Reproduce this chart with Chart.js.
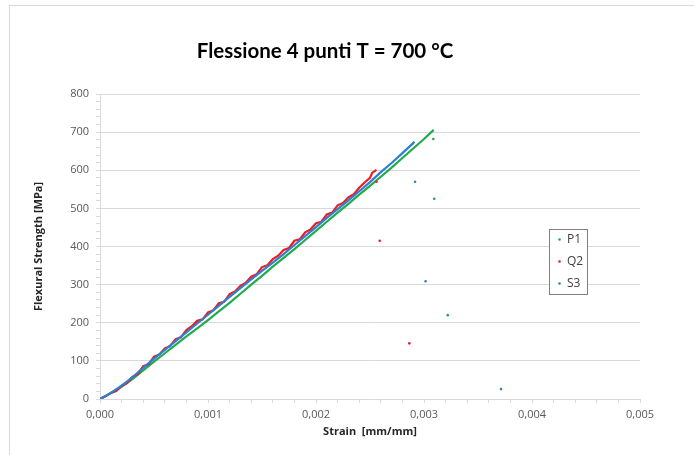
<!DOCTYPE html>
<html>
<head>
<meta charset="utf-8">
<title>Flessione 4 punti T = 700 °C</title>
<script src="https://cdn.jsdelivr.net/npm/chart.js@4.4.1/dist/chart.umd.min.js"></script>
<style>
  html, body { margin: 0; padding: 0; background: #fff; overflow: hidden; }
  #frame {
    position: absolute; left: 9px; top: 5px;
    width: 694px; height: 449px;
    border-left: 1px solid #d9d9d9; border-top: 1px solid #d9d9d9;
  }
</style>
</head>
<body>
<div id="frame"><canvas id="chart" width="694" height="449"></canvas></div>
<script>
// Data (strain in mm/mm, stress in MPa)

const seriesNames = ['P1', 'Q2', 'S3'];
const seriesColors = ['#22aa4c', '#ee1c24', '#2e7fcf'];

// P1 - loading curve
const strainP1 = [0, 0.0001, 0.0002, 0.0003, 0.0004, 0.0005, 0.0006, 0.0007, 0.0008, 0.0009, 0.001,
  0.0011, 0.0012, 0.0013, 0.0014, 0.0015, 0.0016, 0.0017, 0.0018, 0.0019, 0.002,
  0.0021, 0.0022, 0.0023, 0.0024, 0.0025, 0.0026, 0.0027, 0.0028, 0.0029, 0.003, 0.00309];
const stressP1 = [0, 15, 32, 52, 75, 98, 120, 142, 164, 185, 207,
  230, 252, 276, 300, 323, 347, 370, 393, 417, 441,
  465, 489, 512, 536, 559, 583, 607, 632, 657, 682, 706];

// Q2 - loading curve (jagged)
const strainQ2 = [0, 0.00005, 0.0001, 0.00015, 0.0002, 0.00025, 0.0003, 0.00035, 0.0004, 0.00045, 0.0005,
  0.00055, 0.0006, 0.00065, 0.0007, 0.00075, 0.0008, 0.00085, 0.0009, 0.00095, 0.001,
  0.00105, 0.0011, 0.00115, 0.0012, 0.00125, 0.0013, 0.00135, 0.0014, 0.00145, 0.0015,
  0.00155, 0.0016, 0.00165, 0.0017, 0.00175, 0.0018, 0.00185, 0.0019, 0.00195, 0.002,
  0.00205, 0.0021, 0.00215, 0.0022, 0.00225, 0.0023, 0.00235, 0.0024, 0.00245, 0.0025,
  0.00252, 0.00256];
const stressQ2 = [0, 7, 16, 21, 35, 42, 58, 65, 86, 91, 111,
  117, 133, 139, 157, 162, 181, 191, 205, 209, 227,
  233, 251, 255, 275, 282, 297, 305, 321, 327, 346,
  351, 367, 376, 391, 396, 415, 419, 437, 445, 461,
  465, 484, 489, 508, 514, 529, 537, 554, 568, 580,
  593, 601];

// S3 - loading curve
const strainS3 = [0, 0.0001, 0.0002, 0.0003, 0.0004, 0.0005, 0.0006, 0.0007, 0.0008, 0.0009, 0.001,
  0.0011, 0.0012, 0.0013, 0.0014, 0.0015, 0.0016, 0.0017, 0.0018, 0.0019, 0.002,
  0.0021, 0.0022, 0.0023, 0.0024, 0.0025, 0.0026, 0.0027, 0.0028, 0.0029, 0.00291];
const stressS3 = [0, 16, 35, 57, 82, 106, 129, 152, 175, 198, 221,
  244, 268, 291, 314, 336, 358, 380, 404, 427, 451,
  475, 498, 521, 545, 569, 595, 619, 645, 671, 675];

// isolated points recorded after failure
const dropStrainP1 = [0.003086, 0.003095, 0.00322];
const dropStressP1 = [682, 525, 220];
const dropStrainQ2 = [0.00256, 0.00259, 0.002864];
const dropStressQ2 = [570, 415, 146];
const dropStrainS3 = [0.002917, 0.003015, 0.003713];
const dropStressS3 = [570, 309, 26];

const toPoints = (xs, ys) => xs.map((x, i) => ({ x: x, y: ys[i] }));

const curves = [
  toPoints(strainP1, stressP1),
  toPoints(strainQ2, stressQ2),
  toPoints(strainS3, stressS3)
];
const drops = [
  toPoints(dropStrainP1, dropStressP1),
  toPoints(dropStrainQ2, dropStressQ2),
  toPoints(dropStrainS3, dropStressS3)
];
const drawOrder = [3, 2, 1]; // S3 on top

const datasets = [];
seriesNames.forEach((name, i) => {
  datasets.push({
    label: name,
    data: curves[i],
    showLine: true,
    borderColor: seriesColors[i],
    borderWidth: 2.2,
    pointRadius: 0,
    tension: 0,
    order: drawOrder[i]
  });
});
seriesNames.forEach((name, i) => {
  datasets.push({
    label: name + ' drop',
    data: drops[i],
    showLine: false,
    pointRadius: 1.3,
    pointBorderWidth: 0,
    pointBackgroundColor: seriesColors[i],
    order: drawOrder[i]
  });
});

const tickFont = { family: "'Open Sans', sans-serif", size: 11 };
const axisTitleFont = { family: "'Open Sans', sans-serif", size: 11, weight: 'bold', lineHeight: 1.2 };
const gridGray = '#d9d9d9';

const isMultiple = (v, step) => Math.abs(v / step - Math.round(v / step)) < 1e-6;

// legend drawn as a boxed list inside the plot, like the original
const legendBox = {
  id: 'legendBox',
  afterDraw(chart) {
    const { ctx, chartArea: a } = chart;
    const x = Math.round(a.left + a.width * 0.8315);
    const y = Math.round(a.top + a.height * 0.4426);
    const w = 38, h = 65;
    ctx.save();
    ctx.fillStyle = '#fff';
    ctx.fillRect(x, y, w, h);
    ctx.strokeStyle = '#808080';
    ctx.lineWidth = 1;
    ctx.strokeRect(x + 0.5, y + 0.5, w, h);
    ctx.font = "12px 'Open Sans', sans-serif";
    ctx.textBaseline = 'middle';
    ctx.textAlign = 'left';
    seriesNames.forEach((name, i) => {
      const cy = y + 10.5 + i * 22;
      ctx.fillStyle = seriesColors[i];
      ctx.beginPath();
      ctx.arc(x + 10.5, cy, 1.3, 0, Math.PI * 2);
      ctx.fill();
      ctx.fillStyle = '#404040';
      ctx.fillText(name, x + 18, cy);
    });
    ctx.restore();
  }
};

new Chart(document.getElementById('chart'), {
  type: 'scatter',
  data: { datasets: datasets },
  plugins: [legendBox],
  options: {
    responsive: false,
    animation: false,
    devicePixelRatio: 1,
    layout: { padding: { top: 0, right: 64, bottom: 0, left: 0 } },
    plugins: {
      legend: { display: false },
      tooltip: { enabled: false },
      title: {
        display: true,
        text: 'Flessione 4 punti T = 700 °C',
        color: '#000',
        font: { family: "Lato, 'Open Sans', sans-serif", size: 20.5, weight: 'bold', lineHeight: 1.2 },
        padding: { top: 33, bottom: 30.4 }
      }
    },
    scales: {
      x: {
        type: 'linear',
        min: 0,
        max: 0.005,
        afterFit: s => { s.height = 56; },
        ticks: {
          stepSize: 0.0002,
          autoSkip: false,
          maxRotation: 0,
          padding: 5,
          color: '#595959',
          font: tickFont,
          callback: v => isMultiple(v, 0.001) ? v.toFixed(3).replace('.', ',') : ''
        },
        grid: {
          drawOnChartArea: false,
          tickLength: 4,
          tickColor: gridGray
        },
        border: { color: gridGray },
        title: {
          display: true,
          text: 'Strain  [mm/mm]',
          color: '#262626',
          font: axisTitleFont,
          padding: { top: 0, bottom: 16.4 }
        }
      },
      y: {
        min: 0,
        max: 800,
        afterFit: s => { s.width = 90; },
        ticks: {
          stepSize: 20,
          autoSkip: false,
          padding: 7,
          color: '#595959',
          font: tickFont,
          callback: v => isMultiple(v, 100) ? String(v) : ''
        },
        grid: {
          color: c => (c.tick && isMultiple(c.tick.value, 100)) ? gridGray : 'rgba(0,0,0,0)',
          tickLength: 4,
          tickColor: gridGray
        },
        border: { color: gridGray },
        title: {
          display: true,
          text: 'Flexural Strength [MPa]',
          color: '#262626',
          font: axisTitleFont,
          padding: { top: 22, bottom: 0 }
        }
      }
    }
  }
});
</script>
</body>
</html>
